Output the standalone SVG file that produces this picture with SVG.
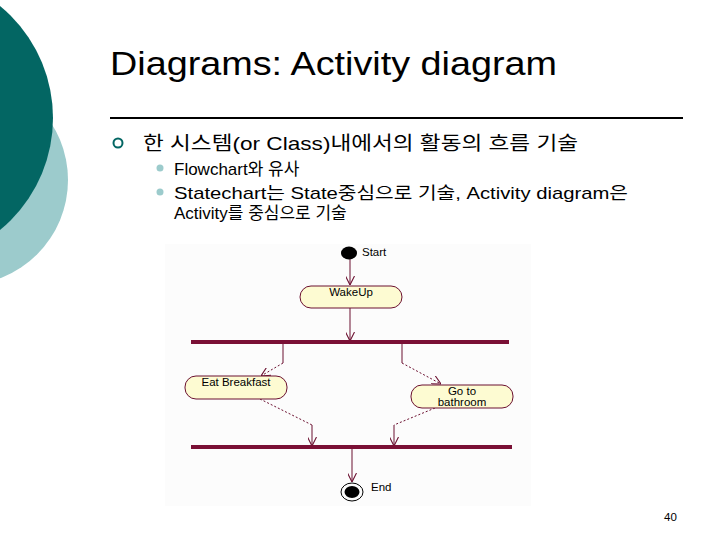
<svg xmlns="http://www.w3.org/2000/svg" width="720" height="540" viewBox="0 0 720 540">
<defs>
<style>
.t{font-family:"Liberation Sans","Noto Sans CJK KR",sans-serif;fill:#000}
.sm{font-family:"Liberation Sans",Arial,sans-serif;font-size:11.5px;fill:#000}
.act{fill:#fdfbd2;stroke:#6b1030;stroke-width:1}
.bar{fill:#7a1035}
.ln{stroke:#6b1030;stroke-width:1;fill:none}
.ds{stroke:#6b1030;stroke-width:1;fill:none;stroke-dasharray:2 2}
</style>
<marker id="ah" viewBox="0 0 10 10" refX="10" refY="5" markerWidth="9" markerHeight="9" markerUnits="userSpaceOnUse" orient="auto">
<path d="M0,0 L10,5 L0,10" fill="none" stroke="#6b1030" stroke-width="1.2"/>
</marker>
</defs>
<rect width="720" height="540" fill="#fff"/>
<g id="decor">
<circle cx="-37" cy="180" r="105" fill="#9ccbcc"/>
<circle cx="-92" cy="118" r="145" fill="#036663"/>
</g>
<g id="title">
<text class="t" x="110" y="75" font-size="34" textLength="447" lengthAdjust="spacingAndGlyphs">Diagrams: Activity diagram</text>
<rect x="110" y="117" width="573" height="2" fill="#000"/>
</g>
<g id="bullets">
<circle cx="118" cy="143" r="4.5" fill="none" stroke="#036663" stroke-width="2"/>
<text class="t" x="143" y="150" font-size="19" textLength="435" lengthAdjust="spacingAndGlyphs">한 시스템(or Class)내에서의 활동의 흐름 기술</text>
<circle cx="160" cy="168" r="3.5" fill="#9ccbcc"/>
<text class="t" x="174" y="175" font-size="17">Flowchart와 유사</text>
<circle cx="160" cy="192" r="3.5" fill="#9ccbcc"/>
<text class="t" x="174" y="199" font-size="17" textLength="454" lengthAdjust="spacingAndGlyphs">Statechart는 State중심으로 기술, Activity diagram은</text>
<text class="t" x="174" y="219" font-size="17">Activity를 중심으로 기술</text>
</g>
<rect x="165" y="244" width="366" height="262" fill="#fcfcfc"/>
<g id="connectors">
<line class="ln" x1="350" y1="259" x2="350" y2="285" marker-end="url(#ah)"/>
<line class="ln" x1="350" y1="308" x2="350" y2="341" marker-end="url(#ah)"/>
<polyline class="ln" points="283,344 283,363"/>
<line class="ds" x1="283" y1="363" x2="261" y2="376" marker-end="url(#ah)"/>
<polyline class="ln" points="402,344 402,363"/>
<line class="ds" x1="402" y1="363" x2="441" y2="384" marker-end="url(#ah)"/>
<line class="ds" x1="260" y1="399" x2="312" y2="425"/>
<line class="ln" x1="312" y1="425" x2="312" y2="446" marker-end="url(#ah)"/>
<line class="ds" x1="435" y1="408" x2="394" y2="425"/>
<line class="ln" x1="394" y1="425" x2="394" y2="446" marker-end="url(#ah)"/>
<line class="ln" x1="352" y1="449" x2="352" y2="482" marker-end="url(#ah)"/>
</g>
<g id="start">
<ellipse cx="349" cy="253" rx="8" ry="6.5" fill="#000"/>
<text class="sm" x="362" y="256">Start</text>
</g>
<g id="wakeup">
<rect class="act" x="300" y="286" width="102" height="22" rx="11" ry="11"/>
<text class="sm" x="351" y="296" text-anchor="middle">WakeUp</text>
</g>
<g id="fork">
<rect class="bar" x="191" y="340" width="318" height="4"/>
</g>
<g id="eatbreakfast">
<rect class="act" x="185" y="376" width="102" height="23" rx="11" ry="11"/>
<text class="sm" x="236" y="386" text-anchor="middle">Eat Breakfast</text>
</g>
<g id="bathroom">
<rect class="act" x="411" y="385" width="102" height="23" rx="11" ry="11"/>
<text class="sm" x="462" y="395" text-anchor="middle" font-size="10.5">Go to</text>
<text class="sm" x="462" y="406" text-anchor="middle" font-size="10.5">bathroom</text>
</g>
<g id="join">
<rect class="bar" x="191" y="445" width="321" height="4"/>
</g>
<g id="end">
<ellipse cx="352" cy="492" rx="11" ry="9" fill="none" stroke="#000" stroke-width="1"/>
<ellipse cx="352" cy="492" rx="7.5" ry="6" fill="#000"/>
<text class="sm" x="371" y="491">End</text>
</g>
<text class="sm" x="664" y="521" font-size="11">40</text>
</svg>
